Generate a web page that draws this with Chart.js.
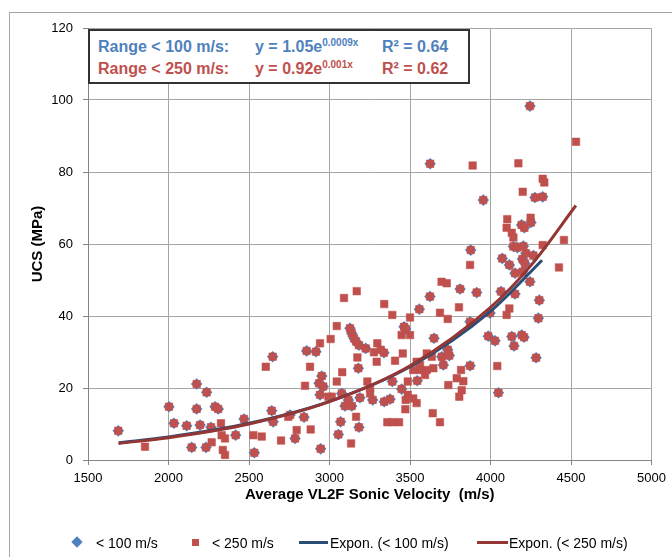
<!DOCTYPE html>
<html>
<head>
<meta charset="utf-8">
<script src="https://cdn.jsdelivr.net/npm/chart.js@4"></script>
<style>
  html, body { margin: 0; padding: 0; background: #fff; overflow: hidden; }
  #wrap { position: relative; width: 672px; height: 557px; font-family: "Liberation Sans", Arial, sans-serif; }
  #frame { position: absolute; left: 9px; top: 12px; width: 720px; height: 600px; border: 1px solid #a6a6a6; }
  #eqbox { position: absolute; left: 88px; top: 29px; width: 382px; height: 55px; box-sizing: border-box;
           border: 2px solid #333; background: #fff; font-weight: bold; font-size: 16px; }
  #eqbox span { position: absolute; white-space: nowrap; line-height: 18px; }
  #eqbox sup { font-size: 10px; vertical-align: 6px; line-height: 0; }
  .blue { color: #4f81bd; }
  .red { color: #c0504d; }
  #legend { position: absolute; left: 0; top: 534px; width: 672px; height: 20px; font-size: 14px; color: #000; }
  #legend span { position: absolute; white-space: nowrap; line-height: 18px; }
  #legend i { position: absolute; display: block; }
  canvas { position: absolute; left: 0; top: 0; }
</style>
</head>
<body>
<div id="wrap">
  <div id="frame"></div>
  <canvas id="ucsChart" width="672" height="557"></canvas>
  <div id="eqbox">
    <span class="blue" style="left:8px;top:7px">Range &lt; 100 m/s:</span>
    <span class="blue" style="left:165px;top:7px">y = 1.05e<sup>0.0009x</sup></span>
    <span class="blue" style="left:292px;top:7px">R² = 0.64</span>
    <span class="red" style="left:8px;top:29px">Range &lt; 250 m/s:</span>
    <span class="red" style="left:165px;top:29px">y = 0.92e<sup>0.001x</sup></span>
    <span class="red" style="left:292px;top:29px">R² = 0.62</span>
  </div>
  <div id="legend">
    <i style="left:73px;top:4px;width:8px;height:8px;background:#4f81bd;transform:rotate(45deg)"></i>
    <span style="left:96px;top:0">&lt; 100 m/s</span>
    <i style="left:192px;top:5px;width:7px;height:7px;background:#c0504d"></i>
    <span style="left:212px;top:0">&lt; 250 m/s</span>
    <i style="left:299px;top:7px;width:29px;height:3px;background:#2c4d75"></i>
    <span style="left:330px;top:0">Expon. (&lt; 100 m/s)</span>
    <i style="left:477px;top:7px;width:31px;height:3px;background:#943634"></i>
    <span style="left:509px;top:0">Expon. (&lt; 250 m/s)</span>
  </div>
</div>
<script>
// velocity (m/s), UCS (MPa) - samples inside the < 100 m/s range (also part of < 250 m/s)
const points100 = [
  [1688, 8.1], [2175, 21.1], [2237, 18.8], [2003, 14.8], [2175, 14.2], [2289, 14.8], [2309, 14.2],
  [2034, 10.2], [2113, 9.5], [2196, 9.7], [2264, 9.1], [2144, 3.5], [2233, 3.5], [2417, 6.9],
  [2469, 11.4], [2533, 2.0], [2647, 28.7], [2641, 13.7], [2650, 10.6], [2786, 6.0], [3558, 41.9],
  [3127, 36.6], [3138, 35.2], [3152, 33.8], [3165, 32.9], [2858, 30.3], [2916, 30.1], [3183, 31.9],
  [3225, 31.0], [3338, 29.8], [3463, 37.0], [3473, 36.4], [3649, 33.8], [3697, 28.7], [3734, 30.6],
  [3744, 29.0], [3707, 26.4], [3873, 26.2], [3179, 25.5], [2952, 23.3], [2935, 21.3], [2961, 20.4],
  [2941, 18.1], [3076, 18.5], [3117, 16.7], [3096, 15.0], [3138, 15.0], [3189, 17.3], [3268, 16.7],
  [3376, 16.9], [3340, 16.2], [3390, 21.8], [3448, 19.7], [3545, 22.0], [3069, 10.6], [3183, 9.1],
  [3055, 7.1], [2945, 3.1], [2842, 11.9], [2755, 12.5], [3624, 45.4], [4245, 98.3], [3955, 72.2],
  [4276, 72.9], [4324, 73.1], [4193, 65.3], [4210, 64.5], [4251, 66.0], [4142, 59.3], [4167, 59.0],
  [4204, 59.4], [4220, 57.4], [4266, 56.8], [3877, 58.3], [4073, 56.0], [4117, 54.2], [4198, 55.8],
  [4214, 54.6], [4152, 51.9], [4199, 52.3], [4245, 49.5], [3811, 47.5], [3914, 46.5], [4065, 46.8],
  [4152, 46.1], [4303, 44.4], [4297, 39.4], [3873, 38.4], [3997, 40.8], [3986, 34.4], [4028, 33.1],
  [4132, 34.3], [4146, 31.7], [4194, 34.7], [4208, 34.1], [4283, 28.4], [4049, 18.7], [3625, 82.3]
];
// extra samples that only fall inside the < 250 m/s range
const points250only = [
  [1854, 3.7], [2326, 10.2], [2268, 4.9], [2330, 6.9], [2351, 6.0], [2337, 2.8], [2351, 1.4],
  [2527, 6.9], [2579, 6.5], [2604, 25.9], [2699, 5.4], [2744, 12.0], [2796, 8.3], [3090, 45.0],
  [3169, 46.9], [3340, 43.3], [3390, 40.3], [3500, 39.6], [3804, 42.4], [3686, 40.9], [3734, 39.2],
  [3045, 37.2], [3007, 33.6], [2941, 32.4], [2879, 25.9], [3297, 32.4], [3276, 29.9], [3318, 30.6],
  [3173, 28.5], [3293, 27.3], [3448, 34.7], [3500, 34.7], [3455, 29.6], [3407, 27.6], [3604, 29.6],
  [3635, 28.7], [3541, 27.3], [3562, 26.4], [3520, 25.0], [3562, 25.0], [3604, 25.0], [3645, 25.5],
  [3593, 23.6], [3817, 25.0], [3790, 22.7], [3831, 21.9], [3821, 19.4], [3806, 17.6], [3738, 20.8],
  [3079, 24.4], [3045, 21.8], [2848, 20.6], [2993, 17.6], [3014, 17.6], [3235, 21.8], [3252, 19.9],
  [3252, 18.5], [3486, 21.8], [3486, 18.1], [3473, 16.7], [3520, 17.1], [3541, 15.8], [3471, 14.1],
  [3641, 13.0], [3686, 10.5], [3359, 10.5], [3390, 10.5], [3432, 10.5], [3165, 12.0], [3134, 4.6],
  [2883, 8.5], [3696, 49.5], [3728, 49.1], [3889, 81.8], [4173, 82.4], [4531, 88.4], [4324, 78.1],
  [4334, 77.1], [4200, 74.5], [4249, 67.3], [4104, 66.9], [4100, 64.5], [4132, 63.1], [4142, 61.8],
  [4456, 61.1], [4324, 59.7], [3873, 54.2], [4425, 53.5], [4117, 42.1], [4100, 40.3], [4042, 26.1]
];
// trend lines
const trend100X = [1690, 2000, 2500, 3000, 3500, 4000, 4320];
const trend100Y = [4.8, 6.4, 10.2, 16.3, 25.9, 41.3, 55.5];
const trend250X = [1690, 2000, 2500, 3000, 3500, 4000, 4250, 4530];
const trend250Y = [4.6, 6.2, 10.0, 16.2, 26.2, 42.4, 54.0, 70.7];

const toXY = arr => arr.map(p => ({x: p[0], y: p[1]}));
const blueData = toXY(points100);
const redData = toXY(points100.concat(points250only));
const trend100 = trend100X.map((x, i) => ({x: x, y: trend100Y[i]}));
const trend250 = trend250X.map((x, i) => ({x: x, y: trend250Y[i]}));

const tickFont = {family: 'Liberation Sans', size: 13};
const titleFont = {family: 'Liberation Sans', size: 15, weight: 'bold'};
const plainNum = v => String(v);

const config = {
  type: 'scatter',
  data: {
    datasets: [
      {
        label: 'Expon. (< 250 m/s)', data: trend250, showLine: true, pointRadius: 0,
        borderColor: '#943634', borderWidth: 3, cubicInterpolationMode: 'monotone', order: 0
      },
      {
        label: 'Expon. (< 100 m/s)', data: trend100, showLine: true, pointRadius: 0,
        borderColor: '#2c4d75', borderWidth: 3, cubicInterpolationMode: 'monotone', order: 1
      },
      {
        label: '< 250 m/s', data: redData, pointStyle: 'rect', pointRadius: 5.3,
        backgroundColor: '#c0504d', borderColor: 'rgba(192,80,77,0.55)', borderWidth: 1, order: 2
      },
      {
        label: '< 100 m/s', data: blueData, pointStyle: 'rectRot', pointRadius: 5.8,
        backgroundColor: '#4f81bd', borderColor: '#4f81bd', borderWidth: 0, order: 3
      }
    ]
  },
  options: {
    responsive: false,
    animation: false,
    devicePixelRatio: 1,
    layout: {padding: {left: 10, top: 28, right: 20, bottom: 50}},
    plugins: {
      legend: {display: false},
      tooltip: {enabled: false}
    },
    scales: {
      x: {
        type: 'linear', min: 1500, max: 5000,
        ticks: {stepSize: 500, font: tickFont, color: '#000', padding: 6, maxRotation: 0, callback: plainNum},
        grid: {color: '#a6a6a6', tickLength: 5, tickColor: '#868686'},
        border: {color: '#868686'},
        title: {display: true, text: 'Average VL2F Sonic Velocity  (m/s)', font: titleFont, color: '#000', padding: {top: 0, bottom: 3}},
        afterFit: s => { s.height = 47; }
      },
      y: {
        type: 'linear', min: 0, max: 120,
        ticks: {stepSize: 20, font: tickFont, color: '#000', padding: 10, callback: plainNum},
        grid: {color: '#a6a6a6', tickLength: 5, tickColor: '#868686'},
        border: {color: '#868686'},
        title: {display: true, text: 'UCS (MPa)', font: titleFont, color: '#000', padding: {top: 19, bottom: 0}},
        afterFit: s => { s.width = 78; }
      }
    }
  }
};

var ucsChart = new Chart(document.getElementById('ucsChart'), config);
</script>
</body>
</html>
